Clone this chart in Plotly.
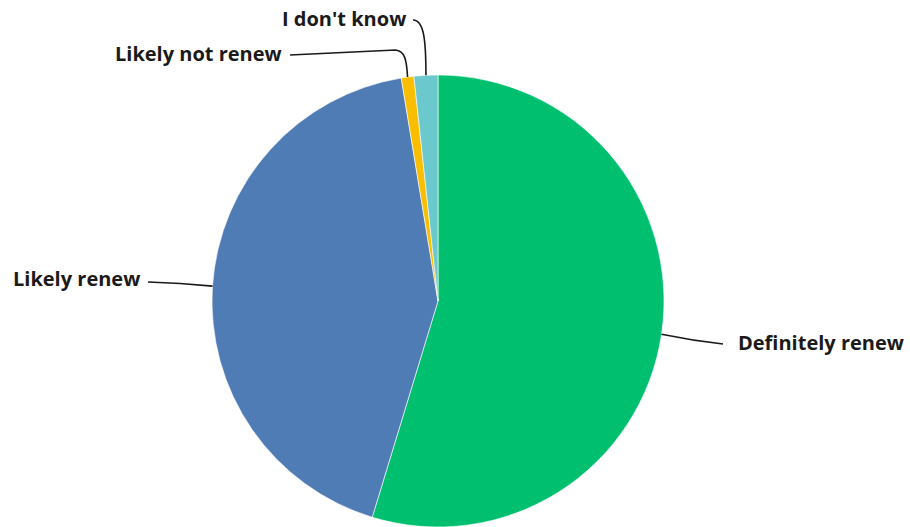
import math
import plotly.graph_objects as go

# ---- data ----
labels = ["Definitely renew", "Likely renew", "Likely not renew", "I don't know"]
values = [54.7, 42.7, 0.9, 1.7]
colors = ["#00BF6F", "#507CB6", "#F9BE00", "#6BC8CD"]

W, H = 910, 527
CX, CY, R = 438, 301, 226

def px(x, y):
    return x / W, 1 - y / H

fig = go.Figure(go.Pie(
    labels=labels, values=values, sort=False, direction="clockwise", rotation=0,
    marker=dict(colors=colors, line=dict(color="white", width=0.6)),
    textinfo="none", hoverinfo="label+percent", showlegend=False,
    domain=dict(x=[(CX - R) / W, (CX + R) / W], y=[0, 2 * (H - CY) / H]),
))

total = sum(values)
cum = 0
mids = []
for v in values:
    mids.append((cum + v / 2) / total * 2 * math.pi)
    cum += v

# label anchor (x, y-center, xanchor)
label_pos = {
    "Definitely renew": (906, 342, "right"),
    "Likely renew": (11, 278, "left"),
    "Likely not renew": (284, 54, "right"),
    "I don't know": (408, 18, "right"),
}
line_start = {
    "Definitely renew": (723, 344),
    "Likely renew": (148, 282),
    "Likely not renew": (290, 55),
    "I don't know": (413, 20),
}

shapes = []
annotations = []
for lab, a in zip(labels, mids):
    ex = CX + R * math.sin(a)
    ey = CY - R * math.cos(a)
    lx, ly, anc = label_pos[lab]
    sx, sy = line_start[lab]
    p1 = px(sx, sy); p3 = px(ex, ey)
    if lab == "I don't know":
        k1 = px(ex - 2, sy); k2 = px(ex, sy + 20)
        path = f"M {p1[0]},{p1[1]} C {k1[0]},{k1[1]} {k2[0]},{k2[1]} {p3[0]},{p3[1]}"
    elif lab == "Likely not renew":
        m = px(ex - 12, sy - 5)
        k1 = px(ex - 3, sy - 4); k2 = px(ex - 1, sy + 4)
        path = (f"M {p1[0]},{p1[1]} L {m[0]},{m[1]} "
                f"C {k1[0]},{k1[1]} {k2[0]},{k2[1]} {p3[0]},{p3[1]}")
    else:
        mx, my = (sx + ex) / 2, (sy + ey) / 2
        k = px(mx, my + (1.5 if ex < sx else -1))
        path = f"M {p1[0]},{p1[1]} Q {k[0]},{k[1]} {p3[0]},{p3[1]}"
    shapes.append(dict(type="path", path=path, xref="paper", yref="paper",
                       line=dict(color="#1a1a1a", width=1.6)))
    ax_, ay_ = px(lx, ly)
    annotations.append(dict(x=ax_, y=ay_, xref="paper", yref="paper", text=lab,
                            showarrow=False, xanchor=anc, yanchor="middle",
                            font=dict(family="Open Sans", size=20, color="#1a1a1a", weight=700)))

fig.update_layout(
    width=W, height=H, margin=dict(l=0, r=0, t=0, b=0),
    paper_bgcolor="white", plot_bgcolor="white",
    shapes=shapes, annotations=annotations,
)
fig.write_html("out.html", config={"displayModeBar": False},
               post_script="document.body.style.margin='0';document.body.style.overflow='hidden';")
